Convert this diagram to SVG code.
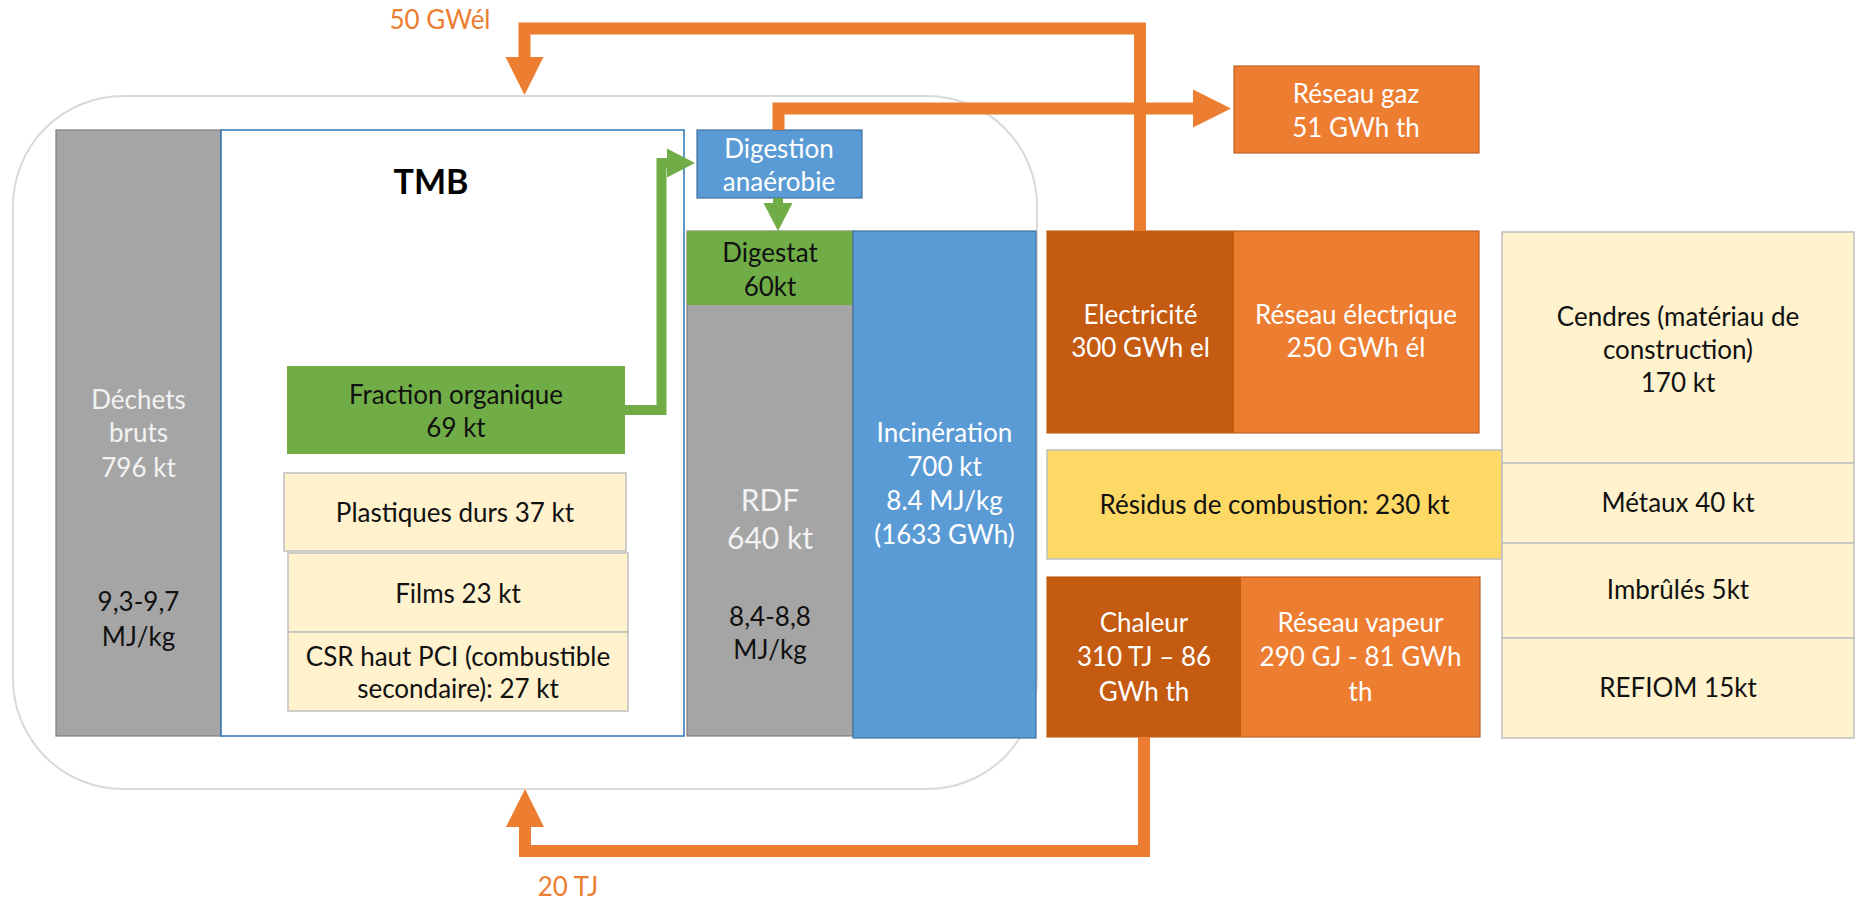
<svg xmlns="http://www.w3.org/2000/svg" width="1856" height="900" viewBox="0 0 1856 900">
  <style>
    .t { font-family: Lato, "Liberation Sans", sans-serif; font-size: 26px; text-anchor: middle; }
    .dk { fill: #111111; }
    .wh { fill: #FFFFFF; }
    .lg { fill: #F2F2F2; }
    .big { font-size: 30px; }
    .tmb { font-weight: bold; font-size: 34px; fill: #000000; }
    .or { fill: #ED7D31; }
    .grey { fill: #A5A5A5; stroke: #7F7F7F; stroke-width: 1.2; }
    .blue { fill: #5B9BD5; stroke: #41719C; stroke-width: 1.2; }
    .green { fill: #70AD47; }
    .orange { fill: #ED7D31; stroke: #C0622A; stroke-width: 1.2; }
    .dorange { fill: #C55A11; }
    .pale { fill: #FFF2CC; stroke: #BFBFBF; stroke-width: 1.5; }
    .yellow { fill: #FFD966; stroke: #BFBFBF; stroke-width: 1.5; }
    .flow-o { fill: none; stroke: #ED7D31; stroke-width: 12; stroke-linejoin: miter; }
    .flow-g { fill: none; stroke: #70AD47; stroke-width: 10; stroke-linejoin: miter; }
  </style>
  <defs>
    <marker id="arrow-o" markerUnits="userSpaceOnUse" markerWidth="38" markerHeight="38" refX="0" refY="19" orient="auto" overflow="visible">
      <path d="M0,0 L38,19 L0,38 Z" fill="#ED7D31"/>
    </marker>
    <marker id="arrow-g" markerUnits="userSpaceOnUse" markerWidth="28" markerHeight="29" refX="0" refY="14.5" orient="auto" overflow="visible">
      <path d="M0,0 L28,14.5 L0,29 Z" fill="#70AD47"/>
    </marker>
  </defs>

  <rect width="1856" height="900" fill="#FFFFFF"/>

  <!-- site boundary -->
  <rect id="site" x="13" y="96" width="1024" height="693" rx="110" ry="110" fill="none" stroke="#D9D9D9" stroke-width="2"/>

  <g id="dechets-bruts">
    <rect class="grey" x="56" y="130" width="165" height="606"/>
    <text class="t lg" x="138.5" y="409">Déchets</text>
    <text class="t lg" x="138.5" y="442">bruts</text>
    <text class="t lg" x="138.5" y="477">796 kt</text>
    <text class="t dk" x="138.5" y="611">9,3-9,7</text>
    <text class="t dk" x="138.5" y="646">MJ/kg</text>
  </g>

  <g id="tmb">
    <rect x="221" y="130" width="463" height="606" fill="#FFFFFF" stroke="#2E75B6" stroke-width="1.5"/>
    <text class="t tmb" x="431" y="193.5">TMB</text>
  </g>

  <g id="fraction-organique">
    <rect class="green" x="287" y="366" width="338" height="88"/>
    <text class="t dk" x="456" y="404">Fraction organique</text>
    <text class="t dk" x="456" y="437">69 kt</text>
  </g>

  <g id="plastiques-durs">
    <rect class="pale" x="284" y="473" width="342" height="78"/>
    <text class="t dk" x="455" y="522">Plastiques durs 37 kt</text>
  </g>

  <g id="films">
    <rect class="pale" x="288" y="553" width="340" height="79"/>
    <text class="t dk" x="458" y="603">Films 23 kt</text>
  </g>

  <g id="csr">
    <rect class="pale" x="288" y="632" width="340" height="79"/>
    <text class="t dk" x="458" y="666">CSR haut PCI (combustible</text>
    <text class="t dk" x="458" y="698">secondaire): 27 kt</text>
  </g>

  <g id="digestion">
    <rect class="blue" x="697" y="130" width="165" height="68"/>
    <text class="t wh" x="779" y="158">Digestion</text>
    <text class="t wh" x="779" y="191">anaérobie</text>
  </g>

  <g id="rdf">
    <rect class="grey" x="687" y="231" width="166" height="505"/>
    <text class="t lg big" x="770" y="510.5">RDF</text>
    <text class="t lg big" x="770" y="548.5">640 kt</text>
    <text class="t dk" x="770" y="626">8,4-8,8</text>
    <text class="t dk" x="770" y="659">MJ/kg</text>
  </g>

  <g id="digestat">
    <rect class="green" x="687" y="231" width="166" height="74"/>
    <text class="t dk" x="770" y="262">Digestat</text>
    <text class="t dk" x="770" y="296">60kt</text>
  </g>

  <g id="incineration">
    <rect class="blue" x="853" y="231" width="183" height="507"/>
    <text class="t wh" x="944.5" y="442">Incinération</text>
    <text class="t wh" x="944.5" y="476">700 kt</text>
    <text class="t wh" x="944.5" y="510">8.4 MJ/kg</text>
    <text class="t wh" x="944.5" y="544">(1633 GWh)</text>
  </g>

  <g id="reseau-gaz">
    <rect class="orange" x="1234" y="66" width="245" height="87"/>
    <text class="t wh" x="1356" y="103">Réseau gaz</text>
    <text class="t wh" x="1356" y="137">51 GWh th</text>
  </g>

  <g id="reseau-electrique">
    <rect class="orange" x="1047" y="231" width="432" height="202"/>
    <text class="t wh" x="1356" y="324">Réseau électrique</text>
    <text class="t wh" x="1356" y="357">250 GWh él</text>
  </g>

  <g id="electricite">
    <rect class="dorange" x="1047" y="231" width="187" height="202"/>
    <text class="t wh" x="1140.5" y="324">Electricité</text>
    <text class="t wh" x="1140.5" y="357">300 GWh el</text>
  </g>

  <g id="residus">
    <rect class="yellow" x="1047" y="450" width="455" height="109"/>
    <text class="t dk" x="1274.5" y="514">Résidus de combustion: 230 kt</text>
  </g>

  <g id="reseau-vapeur">
    <rect class="orange" x="1047" y="577" width="433" height="160"/>
    <text class="t wh" x="1360.5" y="632">Réseau vapeur</text>
    <text class="t wh" x="1360.5" y="666">290 GJ - 81 GWh</text>
    <text class="t wh" x="1360.5" y="701">th</text>
  </g>

  <g id="chaleur">
    <rect class="dorange" x="1047" y="577" width="194" height="160"/>
    <text class="t wh" x="1144" y="632">Chaleur</text>
    <text class="t wh" x="1144" y="666">310 TJ – 86</text>
    <text class="t wh" x="1144" y="701">GWh th</text>
  </g>

  <g id="cendres">
    <rect class="pale" x="1502" y="232" width="352" height="231"/>
    <text class="t dk" x="1678" y="326">Cendres (matériau de</text>
    <text class="t dk" x="1678" y="359">construction)</text>
    <text class="t dk" x="1678" y="392">170 kt</text>
  </g>

  <g id="metaux">
    <rect class="pale" x="1502" y="463" width="352" height="80"/>
    <text class="t dk" x="1678" y="512">Métaux 40 kt</text>
  </g>

  <g id="imbrules">
    <rect class="pale" x="1502" y="543" width="352" height="95"/>
    <text class="t dk" x="1678" y="599">Imbrûlés 5kt</text>
  </g>

  <g id="refiom">
    <rect class="pale" x="1502" y="638" width="352" height="100"/>
    <text class="t dk" x="1678" y="697">REFIOM 15kt</text>
  </g>

  <g id="connectors">
    <!-- electricity returned to the site -->
    <polyline class="flow-o" points="1140,231 1140,28.5 524.5,28.5 524.5,57" marker-end="url(#arrow-o)"/>
    <!-- biogas to the gas grid -->
    <polyline class="flow-o" points="778.5,130 778.5,108.5 1193,108.5" marker-end="url(#arrow-o)"/>
    <!-- heat returned to the site -->
    <polyline class="flow-o" points="1144,737 1144,851 525,851 525,827" marker-end="url(#arrow-o)"/>
    <!-- organic fraction to digestion -->
    <polyline class="flow-g" points="625,410 661.5,410 661.5,163 667,163" marker-end="url(#arrow-g)"/>
    <!-- digestion to digestate -->
    <polyline class="flow-g" points="778,198 778,203" marker-end="url(#arrow-g)"/>
    <text class="t or" x="440" y="29">50 GWél</text>
    <text class="t or" x="568" y="896">20 TJ</text>
  </g>
</svg>
